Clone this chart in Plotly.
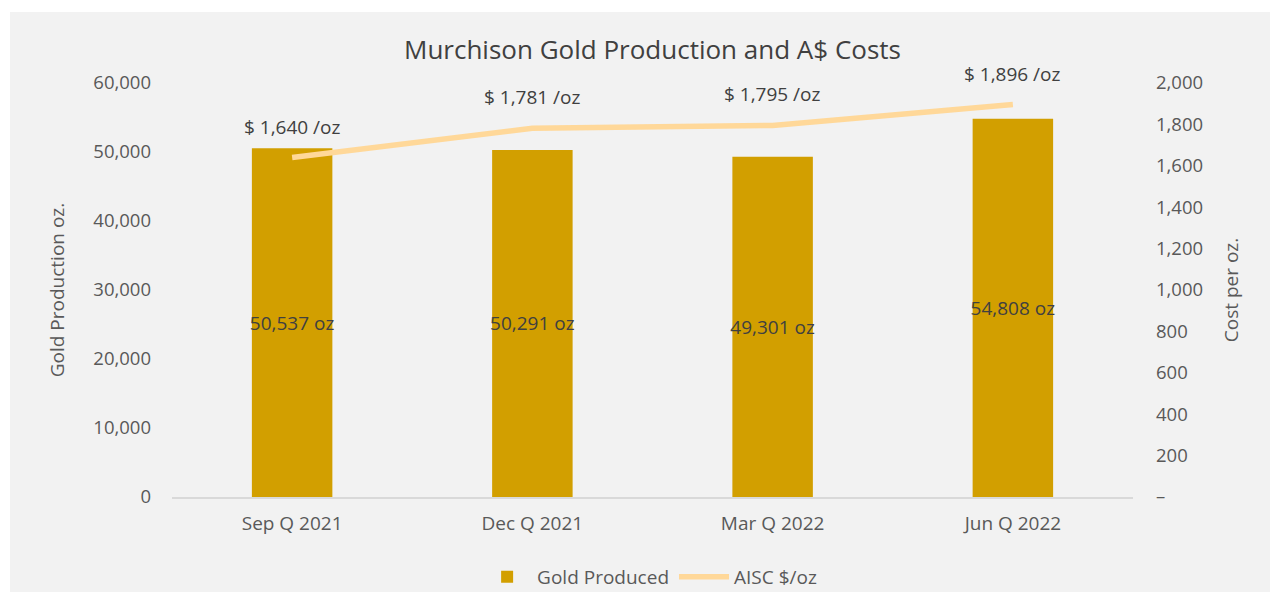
import plotly.graph_objects as go

quarters = ["Sep Q 2021", "Dec Q 2021", "Mar Q 2022", "Jun Q 2022"]
gold_oz = [50537, 50291, 49301, 54808]
aisc = [1640, 1781, 1795, 1896]
left_ticks = [0, 10000, 20000, 30000, 40000, 50000, 60000]
left_tick_text = ["0", "10,000", "20,000", "30,000", "40,000", "50,000", "60,000"]
right_ticks = [0, 200, 400, 600, 800, 1000, 1200, 1400, 1600, 1800, 2000]
right_tick_text = ["–", "200", "400", "600", "800", "1,000", "1,200", "1,400", "1,600", "1,800", "2,000"]

FONT = "Open Sans"
GRAY_TXT = "#595959"
DARK_TXT = "#404040"

fig = go.Figure()
fig.add_trace(go.Bar(
    x=quarters, y=gold_oz, name="Gold Produced",
    marker=dict(color="#D29F00", line=dict(width=0)),
    width=0.335,
    text=[f"{v:,} oz" for v in gold_oz],
    textposition="inside", insidetextanchor="middle", constraintext="none",
    textangle=0,
    textfont=dict(family=FONT, size=19, color=DARK_TXT),
    cliponaxis=False,
))
fig.add_trace(go.Scatter(
    x=quarters, y=aisc, name="AISC $/oz", yaxis="y2",
    mode="lines",
    line=dict(color="#FFD899", width=5.5),
    cliponaxis=False,
))

annotations = [
    dict(x=q, y=v, xref="x", yref="y2", text=f"$ {v:,} /oz", showarrow=False,
         yshift=31, font=dict(family=FONT, size=19, color=DARK_TXT))
    for q, v in zip(quarters, aisc)
]

fig.update_layout(
    width=1271, height=586,
    margin=dict(l=164, r=146, t=75, b=97, autoexpand=False),
    paper_bgcolor="white",
    plot_bgcolor="#F2F2F2",
    font=dict(family=FONT, color=GRAY_TXT),
    title=dict(text="Murchison Gold Production and A$ Costs", x=0.5, xanchor="center",
               xref="paper", y=0.928, yref="container", yanchor="middle",
               font=dict(family=FONT, size=26, color=DARK_TXT)),
    bargap=0.665,
    showlegend=True,
    legend=dict(orientation="h", x=0.497, xanchor="center", xref="paper",
                y=-0.193, yanchor="middle", yref="paper",
                font=dict(family=FONT, size=19, color=GRAY_TXT),
                bgcolor="rgba(0,0,0,0)", itemwidth=50),
    annotations=annotations,
    xaxis=dict(showline=True, linecolor="#D9D9D9", linewidth=1.5, showgrid=False,
               ticks="", tickangle=0, automargin=False, ticklabelstandoff=8,
               tickfont=dict(family=FONT, size=19, color=GRAY_TXT)),
    yaxis=dict(range=[0, 60000], tickvals=left_ticks, ticktext=left_tick_text,
               showgrid=False, zeroline=False, ticks="", ticklabelstandoff=20,
               automargin=False,
               tickfont=dict(family=FONT, size=18.5, color=GRAY_TXT),
               title=dict(text="Gold Production oz.", standoff=23,
                          font=dict(family=FONT, size=19, color=GRAY_TXT))),
    yaxis2=dict(range=[0, 2000], overlaying="y", side="right", tickvals=right_ticks,
                ticktext=right_tick_text, showgrid=False, zeroline=False, ticks="",
                ticklabelstandoff=22, automargin=False,
                tickfont=dict(family=FONT, size=18.5, color=GRAY_TXT),
                title=dict(text="Cost per oz.", standoff=22,
                           font=dict(family=FONT, size=19, color=GRAY_TXT))),
    shapes=[dict(type="rect", xref="paper", yref="paper", x0=-0.1686, x1=1.1426,
                 y0=-0.2295, y1=1.1715, fillcolor="#F2F2F2", line=dict(width=0),
                 layer="below")],
)

fig.write_html("out.html")
